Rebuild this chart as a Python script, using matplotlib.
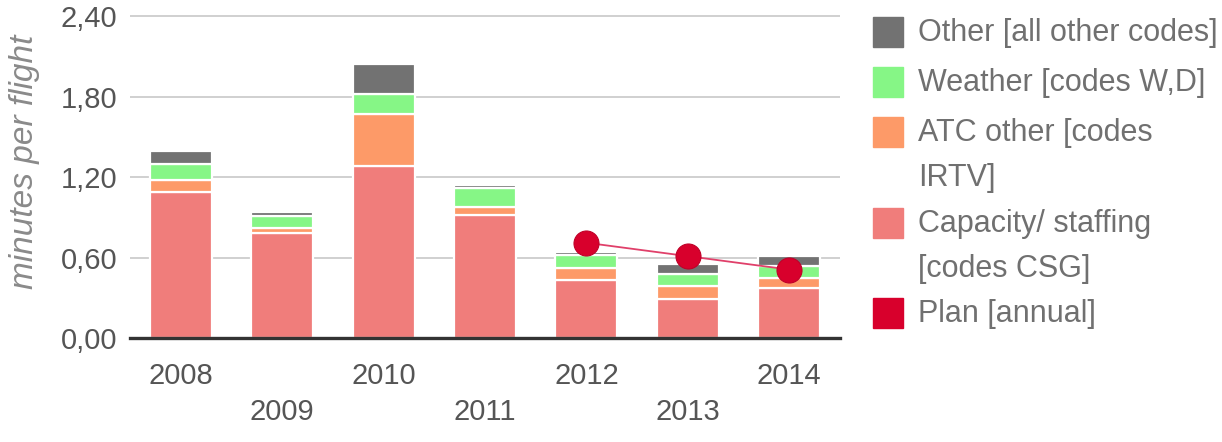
import numpy as np
import matplotlib
matplotlib.use('Agg')
import matplotlib.pyplot as plt
from matplotlib.patches import Rectangle

years = ['2008', '2009', '2010', '2011', '2012', '2013', '2014']
capacity = [1.09, 0.78, 1.28, 0.915, 0.43, 0.29, 0.37]
atc_other = [0.085, 0.04, 0.39, 0.06, 0.09, 0.10, 0.08]
weather = [0.125, 0.09, 0.15, 0.14, 0.10, 0.09, 0.09]
other = [0.095, 0.03, 0.22, 0.025, 0.02, 0.07, 0.07]
plan_years = ['2012', '2013', '2014']
plan = [0.71, 0.61, 0.51]

c_cap = '#f07d7b'
c_atc = '#fd9a68'
c_wea = '#86f686'
c_oth = '#727272'
c_plan = '#d8002c'

plt.rcParams['font.family'] = ['Liberation Sans', 'DejaVu Sans']

W, H = 1222, 442
fig = plt.figure(figsize=(W / 100, H / 100), dpi=100)
ax = fig.add_axes([130 / W, (H - 338) / H, 710 / W, 323.3 / H])

x = np.arange(len(years))
bw = 0.61
bottom = np.zeros(len(years))
for vals, col in [(capacity, c_cap), (atc_other, c_atc), (weather, c_wea), (other, c_oth)]:
    ax.bar(x, vals, bw, bottom=bottom, color=col, edgecolor='white', linewidth=1.6, zorder=3)
    bottom = bottom + np.array(vals)

px = [years.index(y) for y in plan_years]
ax.plot(px, plan, color='#e0406a', lw=1.3, zorder=4)
ax.plot(px, plan, 'o', color=c_plan, markersize=18, markeredgecolor='#c00028', markeredgewidth=0.8, zorder=5)

ax.set_xlim(-0.5, 6.5)
ax.set_ylim(0, 2.41)
ax.set_yticks([0, 0.6, 1.2, 1.8, 2.4])
ax.set_yticklabels(['0,00', '0,60', '1,20', '1,80', '2,40'])
ax.yaxis.grid(True, color='#c8c8c8', lw=1.2, zorder=0)
ax.set_axisbelow(True)
for s in ['top', 'right', 'left']:
    ax.spines[s].set_visible(False)
ax.spines['bottom'].set_color('#333333')
ax.spines['bottom'].set_linewidth(2.4)
ax.spines['bottom'].set_zorder(6)
ax.tick_params(axis='y', length=0, pad=9, labelsize=21, labelcolor='#555555')
ax.tick_params(axis='x', length=0, labelsize=21, labelcolor='#555555')
ax.set_xticks(x)
ax.set_xticklabels(years)
for i, t in enumerate(ax.xaxis.get_major_ticks()):
    t.set_pad(17 if i % 2 == 0 else 43.5)

# y axis title
fig.text(25 / W, (H - 162) / H, 'minutes per flight', fontsize=24, style='italic',
         color='#8a8a8a', rotation=90, ha='center', va='center')

# legend
legend_items = [
    (c_oth, ['Other [all other codes]'], 32),
    (c_wea, ['Weather [codes W,D]'], 82),
    (c_atc, ['ATC other [codes', 'IRTV]'], 132),
    (c_cap, ['Capacity/ staffing', '[codes CSG]'], 223),
    (c_plan, ['Plan [annual]'], 313),
]
for col, lines, yc in legend_items:
    fig.patches.append(Rectangle((873 / W, (H - yc - 15) / H), 30 / W, 30 / H,
                                 transform=fig.transFigure, color=col))
    for j, ln in enumerate(lines):
        fig.text(918 / W, (H - yc - 1 - j * 45) / H, ln, fontsize=22, color='#707070',
                 va='center', ha='left')

fig.savefig('out.png', dpi=100)
